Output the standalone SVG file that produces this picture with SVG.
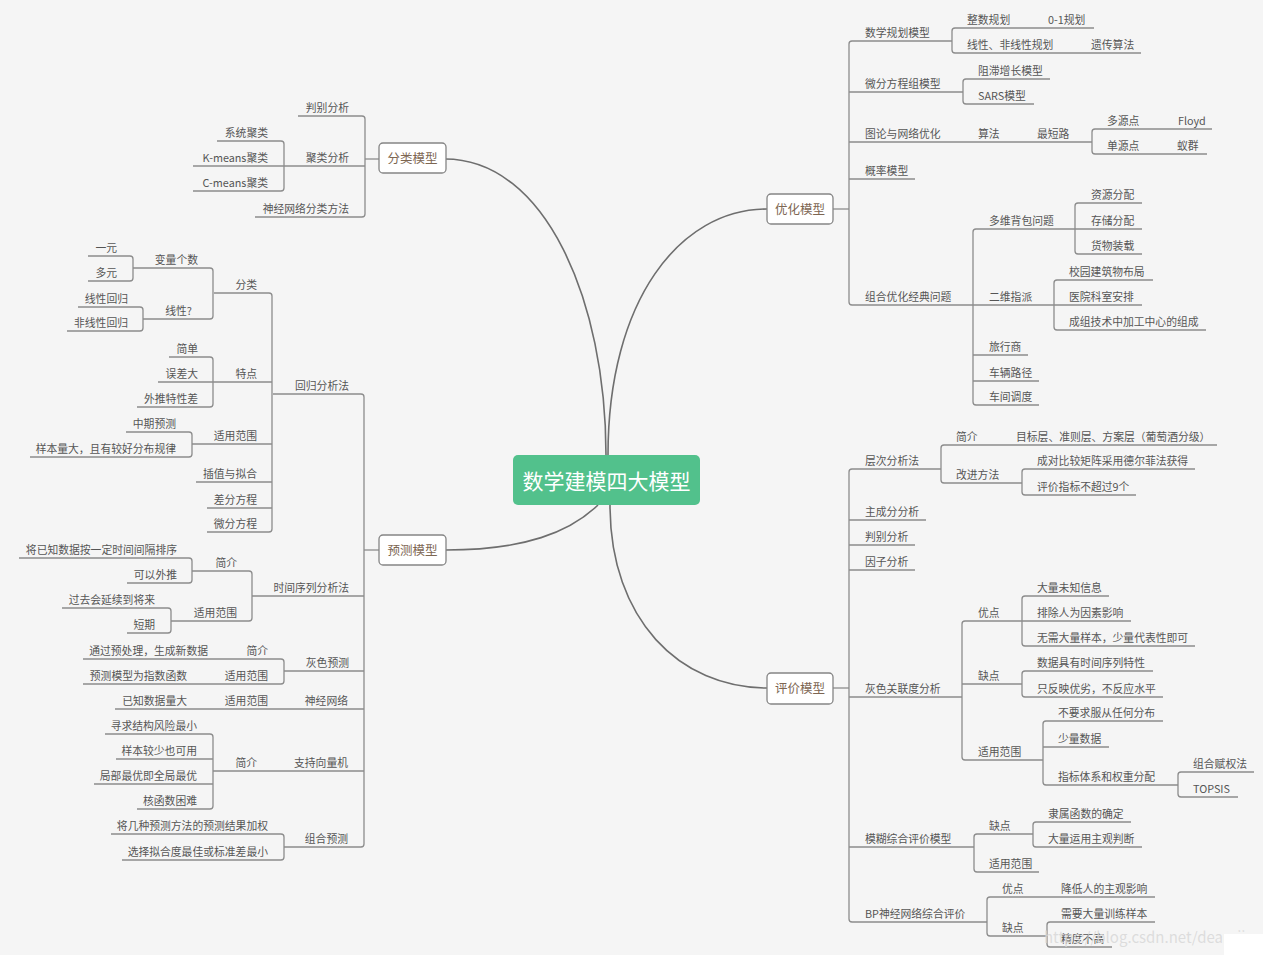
<svg xmlns="http://www.w3.org/2000/svg" width="1263" height="955" viewBox="0 0 1263 955">
<style>
.l{fill:none;stroke:#8c8c8c;stroke-width:1.3}
.c{fill:none;stroke:#6e6e6e;stroke-width:1.6}
text{font-family:"Noto Sans CJK SC","Liberation Sans",sans-serif}
.t{font-size:10.8px;fill:#555}
.e{text-anchor:end}
.b{font-size:12.5px;fill:#7d6652;text-anchor:middle}
.box{fill:#fff;stroke:#858585;stroke-width:1.3}
</style>
<rect width="1263" height="955" fill="#f5f5f5"/>
<g id="connectors">
<path class="c" d="M445,159 C545,159 606,300 606,455"/>
<path class="c" d="M767,209 C680,209 608,300 608,455"/>
<path class="c" d="M446,550 C525,550 570,532 598,505"/>
<path class="c" d="M610,505 C610,620 680,688 767,688"/>
<path class="l" d="M379,159 H365"/>
<path class="l" d="M298,116 H362 Q365,116 365,119 V214 Q365,217 362,217 H255"/>
<path class="l" d="M365,166 H193"/>
<path class="l" d="M217,141 H281 Q284,141 284,144 V188 Q284,191 281,191 H193"/>
<path class="l" d="M379,550 H364"/>
<path class="l" d="M273,394 H361 Q364,394 364,397 V844 Q364,847 361,847 H284"/>
<path class="l" d="M364,596 H252 M364,671 H284 M364,709 H115 M364,771 H213"/>
<path class="l" d="M214,293 H269 Q272,293 272,296 V529 Q272,532 269,532 H207"/>
<path class="l" d="M272,382 H213 M272,444 H192 M272,482 H196 M272,508 H207"/>
<path class="l" d="M133,268 H210 Q213,268 213,271 V316 Q213,319 210,319 H143"/>
<path class="l" d="M88,256 H130 Q133,256 133,259 V278 Q133,281 130,281 H88"/>
<path class="l" d="M78,307 H140 Q143,307 143,310 V328 Q143,331 140,331 H67"/>
<path class="l" d="M169,357 H210 Q213,357 213,360 V404 Q213,407 210,407 H137 M213,382 H158"/>
<path class="l" d="M126,432 H189 Q192,432 192,435 V454 Q192,457 189,457 H30"/>
<path class="l" d="M192,571 H249 Q252,571 252,574 V618 Q252,621 249,621 H171"/>
<path class="l" d="M19,558 H189 Q192,558 192,561 V580 Q192,583 189,583 H127"/>
<path class="l" d="M62,608 H168 Q171,608 171,611 V630 Q171,633 168,633 H127"/>
<path class="l" d="M83,659 H281 Q284,659 284,662 V681 Q284,684 281,684 H83"/>
<path class="l" d="M105,734 H210 Q213,734 213,737 V806 Q213,809 210,809 H137 M213,759 H116 M213,784 H94"/>
<path class="l" d="M111,834 H281 Q284,834 284,837 V857 Q284,860 281,860 H122"/>
<path class="l" d="M833,209 H849"/>
<path class="l" d="M952,41 H852 Q849,41 849,44 V302 Q849,305 852,305 H973"/>
<path class="l" d="M849,92 H963 M849,142 H1092 M849,179 H915"/>
<path class="l" d="M1094,28 H955 Q952,28 952,31 V50 Q952,53 955,53 H1141"/>
<path class="l" d="M1050,79 H966 Q963,79 963,82 V101 Q963,104 966,104 H1034"/>
<path class="l" d="M1212,129 H1095 Q1092,129 1092,132 V151 Q1092,154 1095,154 H1207"/>
<path class="l" d="M1075,229 H976 Q973,229 973,232 V402 Q973,405 976,405 H1039"/>
<path class="l" d="M973,305 H1054 M973,355 H1028 M973,381 H1039"/>
<path class="l" d="M1142,203 H1078 Q1075,203 1075,206 V251 Q1075,254 1078,254 H1142 M1075,229 H1142"/>
<path class="l" d="M1153,280 H1057 Q1054,280 1054,283 V327 Q1054,330 1057,330 H1206 M1054,305 H1142"/>
<path class="l" d="M833,688 H849"/>
<path class="l" d="M941,469 H852 Q849,469 849,472 V919 Q849,922 852,922 H987"/>
<path class="l" d="M849,520 H926 M849,545 H915 M849,570 H915 M849,697 H962 M849,847 H974"/>
<path class="l" d="M1217,445 H944 Q941,445 941,448 V480 Q941,483 944,483 H1022"/>
<path class="l" d="M1195,469 H1025 Q1022,469 1022,472 V492 Q1022,495 1025,495 H1136"/>
<path class="l" d="M1022,621 H965 Q962,621 962,624 V757 Q962,760 965,760 H1043 M962,684 H1022"/>
<path class="l" d="M1109,596 H1025 Q1022,596 1022,599 V643 Q1022,646 1025,646 H1195 M1022,621 H1131"/>
<path class="l" d="M1153,671 H1025 Q1022,671 1022,674 V694 Q1022,697 1025,697 H1163"/>
<path class="l" d="M1163,721 H1046 Q1043,721 1043,724 V782 Q1043,785 1046,785 H1178 M1043,747 H1109"/>
<path class="l" d="M1254,772 H1181 Q1178,772 1178,775 V794 Q1178,797 1181,797 H1238"/>
<path class="l" d="M1033,834 H977 Q974,834 974,837 V869 Q974,872 977,872 H1039"/>
<path class="l" d="M1131,822 H1036 Q1033,822 1033,825 V844 Q1033,847 1036,847 H1142"/>
<path class="l" d="M1155,897 H990 Q987,897 987,900 V933 Q987,936 990,936 H1047"/>
<path class="l" d="M1155,922 H1050 Q1047,922 1047,925 V944 Q1047,947 1050,947 H1112"/>
</g>
<g id="root">
<rect x="513" y="455" width="187" height="50" rx="5" fill="#52c18c"/>
<text x="606.5" y="488.5" font-size="21" fill="#fff" text-anchor="middle">数学建模四大模型</text>
</g>
<g id="n-fenlei">
<rect class="box" x="379" y="143" width="67" height="30" rx="4"/>
<text class="b" x="412.5" y="163">分类模型</text>
</g>
<g id="n-yuce">
<rect class="box" x="379" y="535" width="67" height="30" rx="4"/>
<text class="b" x="412.5" y="554.5">预测模型</text>
</g>
<g id="n-youhua">
<rect class="box" x="767" y="194" width="66" height="30" rx="4"/>
<text class="b" x="800" y="213.5">优化模型</text>
</g>
<g id="n-pingjia">
<rect class="box" x="767" y="673" width="66" height="31" rx="4"/>
<text class="b" x="800" y="693">评价模型</text>
</g>
<g id="fenlei-sub">
<text class="t e" x="349" y="112">判别分析</text>
<text class="t e" x="349" y="162">聚类分析</text>
<text class="t e" x="349" y="213">神经网络分类方法</text>
<text class="t e" x="268" y="137">系统聚类</text>
<text class="t e" x="268" y="162">K-means聚类</text>
<text class="t e" x="268" y="187">C-means聚类</text>
</g>
<g id="yuce-sub">
<text class="t e" x="349" y="390">回归分析法</text>
<text class="t e" x="257" y="289">分类</text>
<text class="t e" x="257" y="378">特点</text>
<text class="t e" x="257" y="440">适用范围</text>
<text class="t e" x="257" y="478">插值与拟合</text>
<text class="t e" x="257" y="504">差分方程</text>
<text class="t e" x="257" y="528">微分方程</text>
<text class="t e" x="198" y="264">变量个数</text>
<text class="t e" x="192" y="315">线性?</text>
<text class="t e" x="117" y="252">一元</text>
<text class="t e" x="117" y="277">多元</text>
<text class="t e" x="128" y="303">线性回归</text>
<text class="t e" x="128" y="327">非线性回归</text>
<text class="t e" x="198" y="353">简单</text>
<text class="t e" x="198" y="378">误差大</text>
<text class="t e" x="198" y="403">外推特性差</text>
<text class="t e" x="176" y="428">中期预测</text>
<text class="t e" x="176" y="453">样本量大，且有较好分布规律</text>
<text class="t e" x="349" y="592">时间序列分析法</text>
<text class="t e" x="237" y="567">简介</text>
<text class="t e" x="237" y="617">适用范围</text>
<text class="t e" x="177" y="554">将已知数据按一定时间间隔排序</text>
<text class="t e" x="177" y="579">可以外推</text>
<text class="t e" x="155" y="604">过去会延续到将来</text>
<text class="t e" x="155" y="629">短期</text>
<text class="t e" x="349" y="667">灰色预测</text>
<text class="t e" x="268" y="655">简介</text>
<text class="t e" x="208" y="655">通过预处理，生成新数据</text>
<text class="t e" x="268" y="680">适用范围</text>
<text class="t e" x="187" y="680">预测模型为指数函数</text>
<text class="t e" x="348" y="705">神经网络</text>
<text class="t e" x="268" y="705">适用范围</text>
<text class="t e" x="187" y="705">已知数据量大</text>
<text class="t e" x="348" y="767">支持向量机</text>
<text class="t e" x="257" y="767">简介</text>
<text class="t e" x="197" y="730">寻求结构风险最小</text>
<text class="t e" x="197" y="755">样本较少也可用</text>
<text class="t e" x="197" y="780">局部最优即全局最优</text>
<text class="t e" x="197" y="805">核函数困难</text>
<text class="t e" x="348" y="843">组合预测</text>
<text class="t e" x="268" y="830">将几种预测方法的预测结果加权</text>
<text class="t e" x="268" y="856">选择拟合度最佳或标准差最小</text>
</g>
<g id="youhua-sub">
<text class="t" x="865" y="37">数学规划模型</text>
<text class="t" x="967" y="24">整数规划</text>
<text class="t" x="1048" y="24">0-1规划</text>
<text class="t" x="967" y="49">线性、非线性规划</text>
<text class="t" x="1091" y="49">遗传算法</text>
<text class="t" x="865" y="88">微分方程组模型</text>
<text class="t" x="978" y="75">阻滞增长模型</text>
<text class="t" x="978" y="100">SARS模型</text>
<text class="t" x="865" y="138">图论与网络优化</text>
<text class="t" x="978" y="138">算法</text>
<text class="t" x="1037" y="138">最短路</text>
<text class="t" x="1107" y="125">多源点</text>
<text class="t" x="1178" y="125">Floyd</text>
<text class="t" x="1107" y="150">单源点</text>
<text class="t" x="1177" y="150">蚁群</text>
<text class="t" x="865" y="175">概率模型</text>
<text class="t" x="865" y="301">组合优化经典问题</text>
<text class="t" x="989" y="225">多维背包问题</text>
<text class="t" x="1091" y="199">资源分配</text>
<text class="t" x="1091" y="225">存储分配</text>
<text class="t" x="1091" y="250">货物装载</text>
<text class="t" x="989" y="301">二维指派</text>
<text class="t" x="1069" y="276">校园建筑物布局</text>
<text class="t" x="1069" y="301">医院科室安排</text>
<text class="t" x="1069" y="326">成组技术中加工中心的组成</text>
<text class="t" x="989" y="351">旅行商</text>
<text class="t" x="989" y="377">车辆路径</text>
<text class="t" x="989" y="401">车间调度</text>
</g>
<g id="pingjia-sub">
<text class="t" x="865" y="465">层次分析法</text>
<text class="t" x="956" y="441">简介</text>
<text class="t" x="1016" y="441">目标层、准则层、方案层（葡萄酒分级）</text>
<text class="t" x="956" y="479">改进方法</text>
<text class="t" x="1037" y="465">成对比较矩阵采用德尔菲法获得</text>
<text class="t" x="1037" y="491">评价指标不超过9个</text>
<text class="t" x="865" y="516">主成分分析</text>
<text class="t" x="865" y="541">判别分析</text>
<text class="t" x="865" y="566">因子分析</text>
<text class="t" x="865" y="693">灰色关联度分析</text>
<text class="t" x="978" y="617">优点</text>
<text class="t" x="978" y="680">缺点</text>
<text class="t" x="978" y="756">适用范围</text>
<text class="t" x="1037" y="592">大量未知信息</text>
<text class="t" x="1037" y="617">排除人为因素影响</text>
<text class="t" x="1037" y="642">无需大量样本，少量代表性即可</text>
<text class="t" x="1037" y="667">数据具有时间序列特性</text>
<text class="t" x="1037" y="693">只反映优劣，不反应水平</text>
<text class="t" x="1058" y="717">不要求服从任何分布</text>
<text class="t" x="1058" y="743">少量数据</text>
<text class="t" x="1058" y="781">指标体系和权重分配</text>
<text class="t" x="1193" y="768">组合赋权法</text>
<text class="t" x="1193" y="793">TOPSIS</text>
<text class="t" x="865" y="843">模糊综合评价模型</text>
<text class="t" x="989" y="830">缺点</text>
<text class="t" x="989" y="868">适用范围</text>
<text class="t" x="1048" y="818">隶属函数的确定</text>
<text class="t" x="1048" y="843">大量运用主观判断</text>
<text class="t" x="865" y="918">BP神经网络综合评价</text>
<text class="t" x="1002" y="893">优点</text>
<text class="t" x="1061" y="893">降低人的主观影响</text>
<text class="t" x="1002" y="932">缺点</text>
<text class="t" x="1061" y="918">需要大量训练样本</text>
<text class="t" x="1061" y="943">精度不高</text>
</g>
<text x="1044" y="943" font-size="15" fill="#d8d8d8" fill-opacity="0.85" font-family="Liberation Sans, sans-serif">https://blog.csdn.net/dear_jing</text>
<rect x="1224" y="934" width="39" height="21" fill="#fff"/>
</svg>
